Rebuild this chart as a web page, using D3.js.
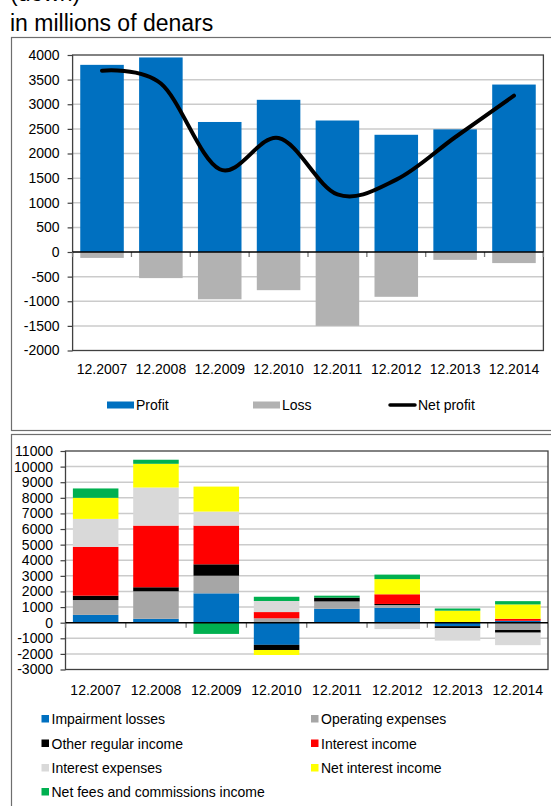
<!DOCTYPE html>
<html>
<head>
<meta charset="utf-8">
<script src="https://cdn.jsdelivr.net/npm/d3@7"></script>
<style>
  body { margin: 0; background: #fff; }
  svg { display: block; }
  text { font-family: "Liberation Sans", Arial, sans-serif; fill: #000; }
</style>
</head>
<body>
<svg id="chart" width="551" height="806"></svg>
<script>
// ---- data: upper chart (profit / loss / net profit) ----
const years = ["12.2007", "12.2008", "12.2009", "12.2010", "12.2011", "12.2012", "12.2013", "12.2014"];
const profit = [3800, 3950, 2640, 3090, 2670, 2380, 2490, 3400];
const loss = [-120, -530, -960, -775, -1500, -910, -160, -225];
const netProfit = [3680, 3420, 1680, 2315, 1170, 1470, 2330, 3175];
const topTicks = [-2000, -1500, -1000, -500, 0, 500, 1000, 1500, 2000, 2500, 3000, 3500, 4000];

// ---- data: lower chart (contributions by component) ----
const componentNames = ["Impairment losses", "Operating expenses", "Other regular income",
  "Interest income", "Interest expenses", "Net interest income", "Net fees and commissions income"];
const impairmentLosses = [500, 250, 1880, -1420, 890, 960, -220, 120];
const operatingExpenses = [950, 1760, 1130, 280, 470, 170, 0, -470];
const otherRegularIncome = [280, 260, 730, -330, 240, 70, -130, -170];
const interestIncome = [3130, 3950, 2480, 400, 0, 620, 0, 130];
const interestExpenses = [1790, 2440, 900, 710, 0, -410, -800, -800];
const netInterestIncome = [1350, 1520, 1600, -320, 0, 970, 770, 920];
const netFeesIncome = [600, 260, -720, 270, 130, 290, 140, 210];
const bottomTicks = [-3000, -2000, -1000, 0, 1000, 2000, 3000, 4000, 5000, 6000, 7000, 8000, 9000, 10000, 11000];

const componentColors = ["#0070C0", "#A6A6A6", "#000000", "#FF0000", "#D9D9D9", "#FFFF00", "#00B050"];
const componentSeries = [impairmentLosses, operatingExpenses, otherRegularIncome,
  interestIncome, interestExpenses, netInterestIncome, netFeesIncome];

const svg = d3.select("#chart");
const fmt = d => String(d);   // plain hyphen for negatives

// ---- headings ----
svg.append("text").attr("x", 10).attr("y", 1).attr("font-size", 23).text("(down)");
svg.append("text").attr("x", 10).attr("y", 31).attr("font-size", 23).text("in millions of denars");

// ---- outer frames ----
svg.append("rect").attr("x", 11.5).attr("y", 37.5).attr("width", 560).attr("height", 393)
  .attr("fill", "none").attr("stroke", "#6e6e6e").attr("stroke-width", 1.2);
svg.append("rect").attr("x", 11.5).attr("y", 434.5).attr("width", 560).attr("height", 400)
  .attr("fill", "none").attr("stroke", "#6e6e6e").attr("stroke-width", 1.2);

function drawFrame(g, x, y, domainY, ticks, opts) {
  const [x0, x1] = x.range();
  const [yb, yt] = y.range();
  // gridlines
  g.append("g").selectAll("line").data(ticks.filter(t => t !== 0 && t !== domainY[0] && t !== domainY[1]))
    .join("line")
    .attr("x1", x0).attr("x2", x1)
    .attr("y1", d => y(d)).attr("y2", d => y(d))
    .attr("stroke", "#cbcbcb").attr("stroke-width", 1.5);
  // y axis with ticks
  const ax = g.append("g").attr("transform", `translate(${x0},0)`)
    .call(d3.axisLeft(y).tickValues(ticks).tickSize(5).tickPadding(opts.pad).tickFormat(fmt));
  ax.select(".domain").remove();
  ax.selectAll(".tick line").attr("stroke", "#404040").attr("stroke-width", 1.2);
  ax.selectAll(".tick text").attr("font-size", 14).attr("fill", "#000")
    .style("font-family", '"Liberation Sans", Arial, sans-serif');
  // plot border
  g.append("rect").attr("x", x0).attr("y", yt).attr("width", x1 - x0).attr("height", yb - yt)
    .attr("fill", "none").attr("stroke", "#404040").attr("stroke-width", 1.3);
}

function drawZeroLine(g, x, y) {
  const [x0, x1] = x.range();
  const step = x.step();
  g.append("g").selectAll("line").data(d3.range(years.length + 1))
    .join("line")
    .attr("x1", i => x0 + i * step).attr("x2", i => x0 + i * step)
    .attr("y1", y(0)).attr("y2", y(0) + 5)
    .attr("stroke", "#7a7a7a").attr("stroke-width", 1.3);
  g.append("line").attr("x1", x0).attr("x2", x1).attr("y1", y(0)).attr("y2", y(0))
    .attr("stroke", "#000").attr("stroke-width", 1.5);
}

function drawYearLabels(g, x, yPos) {
  g.append("g").selectAll("text").data(years).join("text")
    .attr("x", d => x(d) + x.bandwidth() / 2)
    .attr("y", yPos)
    .attr("text-anchor", "middle")
    .attr("font-size", 14)
    .text(d => d);
}

// ================= upper chart =================
const gTop = svg.append("g");
const xTop = d3.scaleBand().domain(years).range([72.6, 543.4]).paddingInner(0.26).paddingOuter(0.13);
const yTop = d3.scaleLinear().domain([-2000, 4000]).range([350.5, 55]);

drawFrame(gTop, xTop, yTop, [-2000, 4000], topTicks, { pad: 8 });

gTop.append("g").selectAll("rect").data(profit).join("rect")
  .attr("x", (d, i) => xTop(years[i])).attr("width", xTop.bandwidth())
  .attr("y", d => yTop(d)).attr("height", d => yTop(0) - yTop(d))
  .attr("fill", "#0070C0");
gTop.append("g").selectAll("rect").data(loss).join("rect")
  .attr("x", (d, i) => xTop(years[i])).attr("width", xTop.bandwidth())
  .attr("y", yTop(0)).attr("height", d => yTop(d) - yTop(0))
  .attr("fill", "#B2B2B2");

drawZeroLine(gTop, xTop, yTop);

const netLine = d3.line()
  .x((d, i) => xTop(years[i]) + xTop.bandwidth() / 2)
  .y(d => yTop(d))
  .curve(d3.curveCardinal.tension(0));
gTop.append("path").datum(netProfit).attr("d", netLine)
  .attr("fill", "none").attr("stroke", "#000").attr("stroke-width", 4)
  .attr("stroke-linecap", "round");

drawYearLabels(gTop, xTop, 374);

// upper legend
const topLegend = [
  { name: "Profit", kind: "rect", color: "#0070C0", x: 107 },
  { name: "Loss", kind: "rect", color: "#B2B2B2", x: 253 },
  { name: "Net profit", kind: "line", color: "#000", x: 389 }
];
const tl = gTop.append("g").selectAll("g").data(topLegend).join("g")
  .attr("transform", d => `translate(${d.x},0)`);
tl.filter(d => d.kind === "rect").append("rect")
  .attr("x", 0).attr("y", 401.5).attr("width", 27).attr("height", 7).attr("fill", d => d.color);
tl.filter(d => d.kind === "line").append("line")
  .attr("x1", 1).attr("x2", 26).attr("y1", 405).attr("y2", 405)
  .attr("stroke", d => d.color).attr("stroke-width", 3.5).attr("stroke-linecap", "round");
tl.append("text").attr("x", 29).attr("y", 410).attr("font-size", 14).text(d => d.name);

// ================= lower chart =================
const gBot = svg.append("g");
const xBot = d3.scaleBand().domain(years).range([65.5, 548]).paddingInner(0.245).paddingOuter(0.1225);
const yBot = d3.scaleLinear().domain([-3000, 11000]).range([669.5, 451]);

drawFrame(gBot, xBot, yBot, [-3000, 11000], bottomTicks, { pad: 7.5 });

const rows = years.map((yr, i) => {
  const r = { year: yr };
  componentNames.forEach((n, k) => { r[n] = componentSeries[k][i]; });
  return r;
});
const stacked = d3.stack().keys(componentNames).offset(d3.stackOffsetDiverging)(rows);

gBot.append("g").selectAll("g").data(stacked).join("g")
  .attr("fill", (d, k) => componentColors[k])
  .selectAll("rect").data(d => d.filter(s => s[0] !== s[1])).join("rect")
  .attr("x", d => xBot(d.data.year)).attr("width", xBot.bandwidth())
  .attr("y", d => yBot(Math.max(d[0], d[1])))
  .attr("height", d => Math.abs(yBot(d[0]) - yBot(d[1])));

drawZeroLine(gBot, xBot, yBot);
drawYearLabels(gBot, xBot, 695);

// lower legend, two columns
const legendCols = [41.5, 311];
const legendRows = [724, 748.5, 773, 797];
const bl = gBot.append("g").selectAll("g").data(componentNames).join("g")
  .attr("transform", (d, k) => `translate(${legendCols[k % 2]},${legendRows[Math.floor(k / 2)]})`);
bl.append("rect").attr("x", 0).attr("y", -9).attr("width", 7.5).attr("height", 7.5)
  .attr("fill", (d, k) => componentColors[k]);
bl.append("text").attr("x", 10).attr("y", 0).attr("font-size", 14).text(d => d);
</script>
</body>
</html>
